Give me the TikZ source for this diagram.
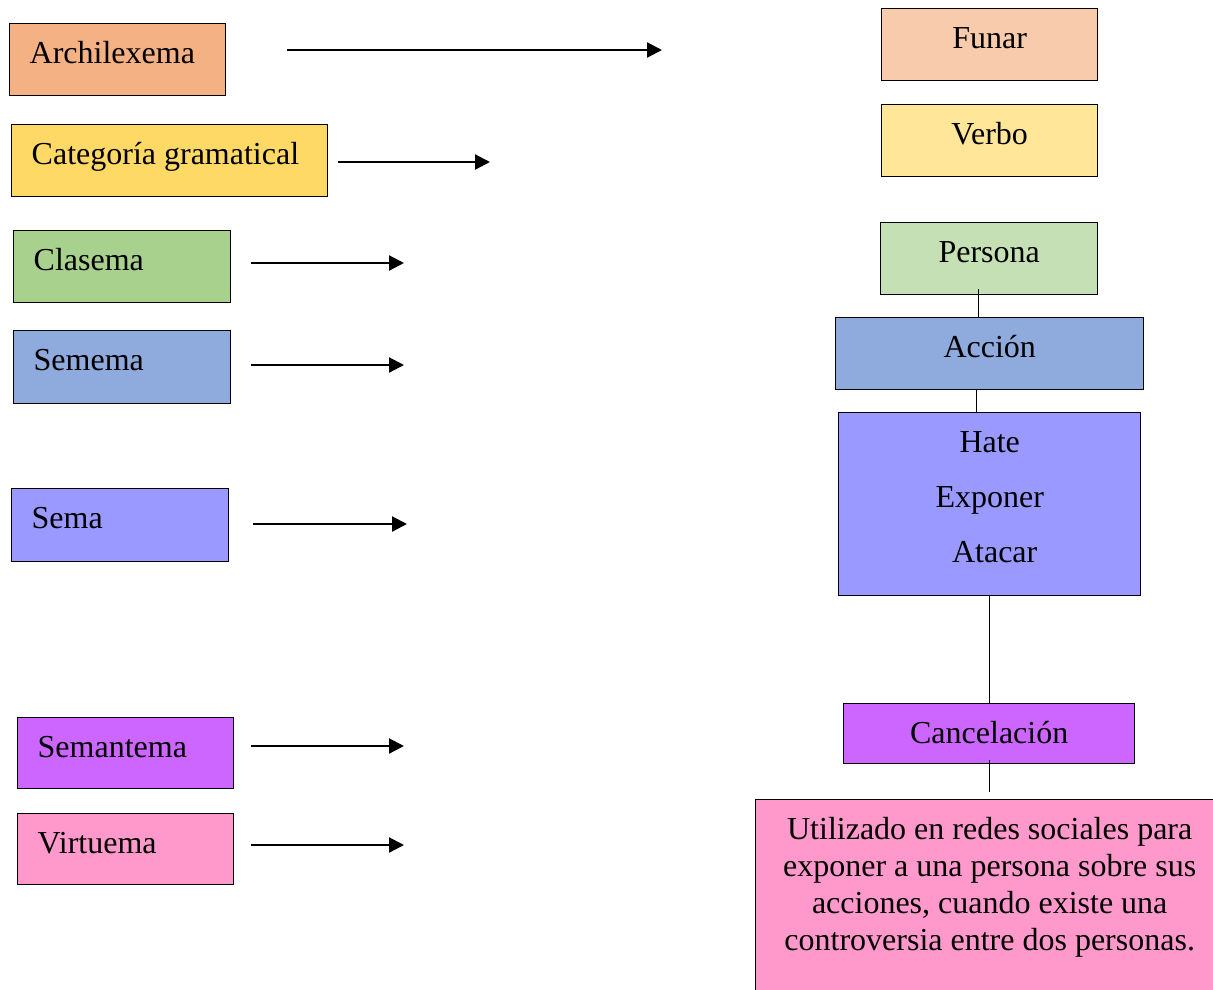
\documentclass[tikz,border=0pt]{standalone}
\usepackage{fontspec}
\setmainfont{Liberation Serif}
\usetikzlibrary{arrows.meta,calc}
\definecolor{cArch}{HTML}{F4B183}
\definecolor{cCat}{HTML}{FFD966}
\definecolor{cClas}{HTML}{A9D18E}
\definecolor{cSemema}{HTML}{8FAADC}
\definecolor{cSema}{HTML}{9999FF}
\definecolor{cSemant}{HTML}{CC66FF}
\definecolor{cVirt}{HTML}{FF99CC}
\definecolor{cFunar}{HTML}{F8CBAD}
\definecolor{cVerbo}{HTML}{FFE699}
\definecolor{cPers}{HTML}{C5E0B4}
\newcommand{\ltxt}[3]{\parbox[c][#2pt][t]{#1pt}{\noindent\rule{0pt}{40pt}\hspace*{20pt}#3}}
\newcommand{\ctxt}[3]{\parbox[c][#2pt][t]{#1pt}{\centering\rule{0pt}{40pt}#3\par}}
\tikzset{
  box/.style={draw=black, line width=1.4pt, inner sep=0pt, anchor=north west},
  arr/.style={-{Triangle[length=15pt,width=15pt]}, line width=2.2pt},
  conn/.style={line width=1.4pt}
}
\begin{document}
\begin{tikzpicture}[x=1pt, y=-1pt, font=\fontsize{32}{36.8}\selectfont]
\useasboundingbox (0,0) rectangle (1213,989);
% left column
\node[box, fill=cArch]   (arch)  at (9,23)   {\ltxt{216}{72}{Archilexema}};
\node[box, fill=cCat]    (cat)   at (11,124) {\ltxt{316}{72}{Categoría gramatical}};
\node[box, fill=cClas]   (clas)  at (13,230) {\ltxt{217}{72}{Clasema}};
\node[box, fill=cSemema] (semema) at (13,330) {\ltxt{217}{73}{Semema}};
\node[box, fill=cSema]   (sema)  at (11,488) {\ltxt{217}{73}{Sema}};
\node[box, fill=cSemant] (semant) at (17,717) {\ltxt{216}{71}{Semantema}};
\node[box, fill=cVirt]   (virt)  at (17,813) {\ltxt{216}{71}{Virtuema}};
% arrows
\coordinate (a1s) at (287,50);  \coordinate (a1e) at (662,50);
\coordinate (a2s) at (338,162); \coordinate (a2e) at (490,162);
\coordinate (a3s) at (251,263); \coordinate (a3e) at (404,263);
\coordinate (a4s) at (251,365); \coordinate (a4e) at (404,365);
\coordinate (a5s) at (253,524); \coordinate (a5e) at (407,524);
\coordinate (a6s) at (251,746); \coordinate (a6e) at (404,746);
\coordinate (a7s) at (251,845); \coordinate (a7e) at (404,845);
\draw[arr] (a1s) -- (a1e);
\draw[arr] (a2s) -- (a2e);
\draw[arr] (a3s) -- (a3e);
\draw[arr] (a4s) -- (a4e);
\draw[arr] (a5s) -- (a5e);
\draw[arr] (a6s) -- (a6e);
\draw[arr] (a7s) -- (a7e);
% right column
\node[box, fill=cFunar]  (funar) at (881,8)   {\ctxt{216}{72}{Funar}};
\node[box, fill=cVerbo]  (verbo) at (881,104) {\ctxt{216}{72}{Verbo}};
\node[box, fill=cPers]   (pers)  at (880,222) {\ctxt{217}{72}{Persona}};
\node[box, fill=cSemema] (acc)   at (835,317) {\ctxt{308}{72}{Acción}};
\node[box, fill=cSema]   (hate)  at (838,412) {\ctxt{302}{183}{Hate\\[18.2pt]Exponer\\[18.2pt]\hspace*{10pt}Atacar}};
\node[box, fill=cSemant] (canc)  at (843,703) {\ctxt{291}{60}{Cancelación}};
\node[box, fill=cVirt]   (pink)  at (755,799) {\ctxt{468}{200}{Utilizado en redes sociales para\\exponer a una persona sobre sus\\acciones, cuando existe una\\controversia entre dos personas.}};
% connectors
\draw[conn] ([xshift=-10.5pt,yshift=6pt]pers.south) -- ($(pers.south |- acc.north)+(-10.5pt,0)$);
\draw[conn] ([xshift=-13pt]acc.south) -- ($(acc.south |- hate.north)+(-13pt,0)$);
\draw[conn] (hate.south) -- (hate.south |- canc.north);
\draw[conn] ([yshift=4pt]canc.south) -- ($(canc.south |- pink.north)+(0,7pt)$);
\end{tikzpicture}
\end{document}
